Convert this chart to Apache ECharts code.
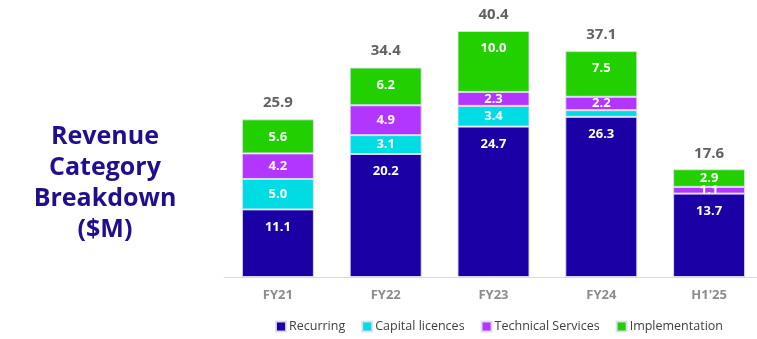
<!DOCTYPE html>
<html><head><meta charset="utf-8">
<script src="https://cdn.jsdelivr.net/npm/echarts@6/dist/echarts.min.js"></script>
<style>html,body{margin:0;padding:0;background:#fff}#c{width:757px;height:339px}</style>
</head><body><div id="c"></div>
<script>
const categories = ["FY21", "FY22", "FY23", "FY24", "H1'25"];
const recurring = [11.1, 20.2, 24.7, 26.3, 13.7];
const capitalLicences = [5.0, 3.1, 3.4, 1.1, 0];
const technicalServices = [4.2, 4.9, 2.3, 2.2, 1.1];
const implementation = [5.6, 6.2, 10.0, 7.5, 2.9];
const totals = [25.9, 34.4, 40.4, 37.1, 17.6];
const seriesNames = ["Recurring", "Capital licences", "Technical Services", "Implementation"];
const colors = ["#1b00a6", "#00dce4", "#b236ff", "#22d000"];

const FONT = "Open Sans";
function mkData(vals, hideSmall) {
  return vals.map(v => ({
    value: v,
    label: {
      show: v > 0 && !(hideSmall && v < 1.5),
      position: v >= 5.6 ? 'insideTop' : 'inside',
      distance: 11
    }
  }));
}
const stackSeries = [recurring, capitalLicences, technicalServices, implementation].map((vals, i) => ({
  name: seriesNames[i],
  type: 'bar',
  stack: 'rev',
  barWidth: 72,
  itemStyle: { color: colors[i], borderColor: 'rgba(225,222,245,0.9)', borderWidth: 1 },
  label: { color: '#fff', fontFamily: FONT, fontWeight: 'bold', fontSize: 13,
           formatter: p => p.value.toFixed(1) },
  data: mkData(vals, i === 1)
}));

const chart = echarts.init(document.getElementById('c'), null, { renderer: 'canvas' });
chart.setOption({
  animation: false,
  textStyle: { fontFamily: FONT },
  grid: { left: 224, width: 539, top: 3, height: 274, outerBoundsMode: 'none', containLabel: false },
  legend: {
    data: seriesNames,
    left: 270, top: 315,
    itemWidth: 10, itemHeight: 10, itemGap: 16,
    icon: 'rect',
    textStyle: { fontFamily: FONT, fontSize: 12.5, color: '#404040', padding: [0, 0, 0, -2] }
  },
  xAxis: {
    type: 'category', data: categories,
    axisLine: { show: true, lineStyle: { color: '#d9d9d9', width: 1 } },
    axisTick: { show: false },
    axisLabel: { color: '#8c8c8c', fontWeight: 'bold', fontSize: 13, fontFamily: FONT, margin: 12 }
  },
  yAxis: { type: 'value', min: 0, max: 45, show: false, splitLine: { show: false } },
  graphic: [{
    type: 'text', x: 105, y: 121,
    style: {
      text: 'Revenue\nCategory\nBreakdown\n($M)',
      x: 0, y: 0,
      textAlign: 'center',
      fill: '#1f0f8f',
      font: 'bold 25px "Open Sans"',
      lineHeight: 31
    }
  }],
  series: stackSeries.concat([{
    name: 'Total', type: 'scatter', symbolSize: 0, silent: true,
    data: totals,
    label: { show: true, position: 'top', distance: 9, color: '#3a3a3a', fontFamily: FONT,
             fontWeight: 'bold', fontSize: 15, formatter: p => p.value.toFixed(1) }
  }])
});
</script></body></html>
